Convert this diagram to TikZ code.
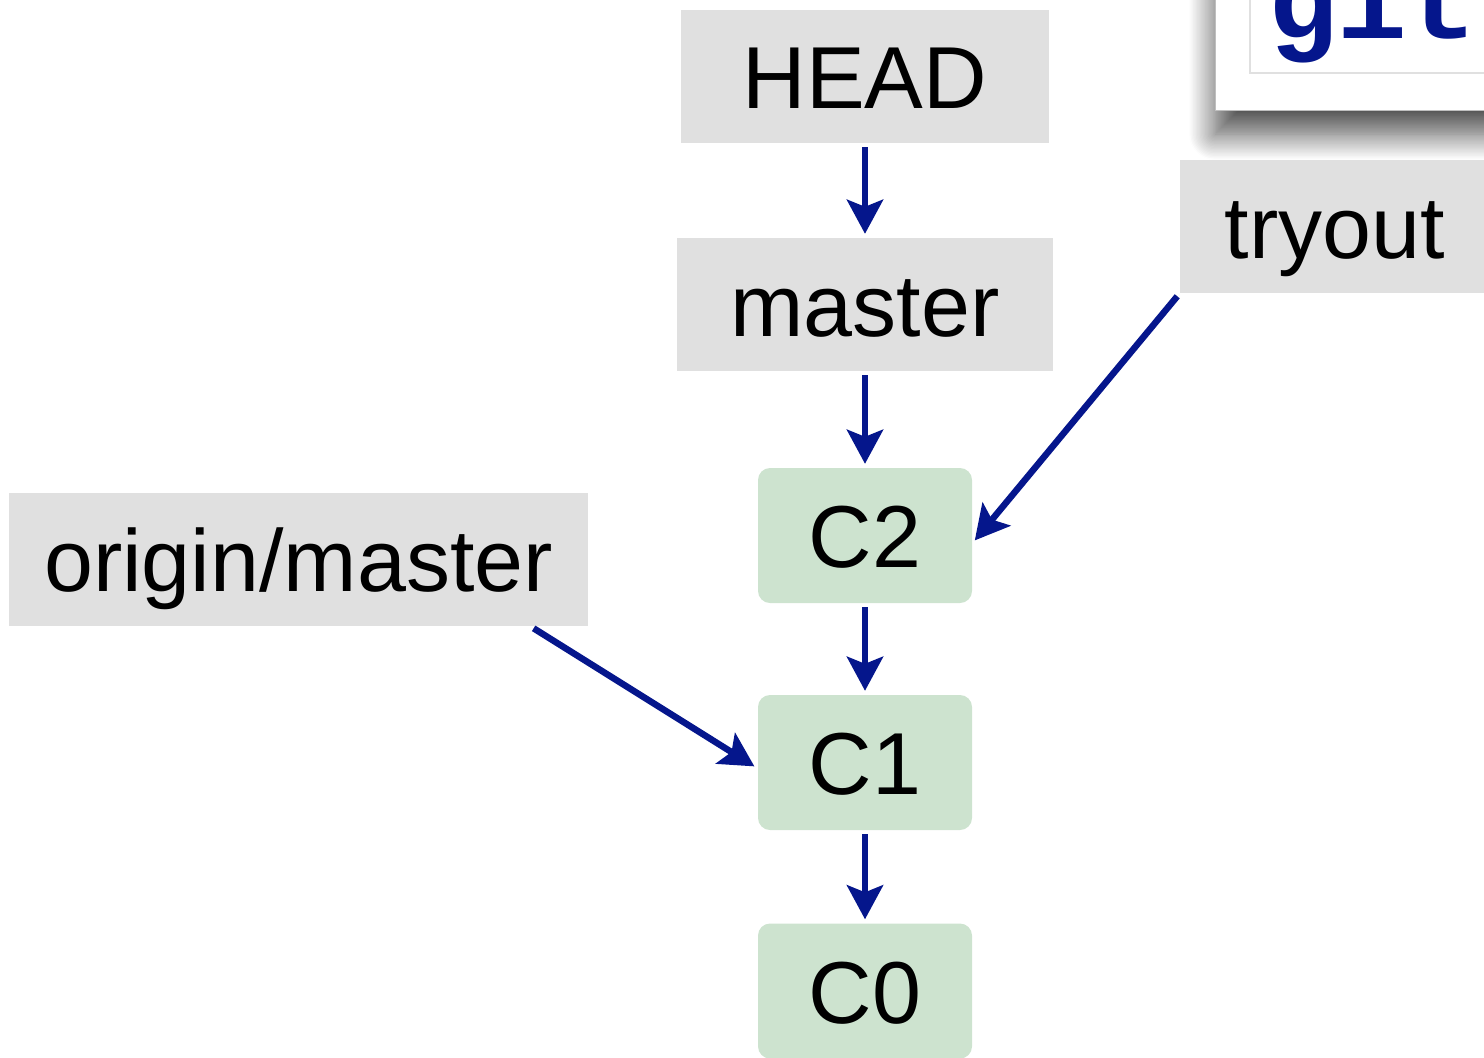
\documentclass[tikz,border=0pt]{standalone}
\usepackage{fontspec}
\setmainfont{Liberation Sans}
\newfontfamily\gitmono{Liberation Mono}
\usetikzlibrary{arrows.meta,shadows.blur}
\definecolor{boxgray}{RGB}{224,224,224}
\definecolor{commitgreen}{RGB}{205,227,207}
\definecolor{arrowblue}{RGB}{5,22,140}
\tikzset{
  lbl/.style={fill=boxgray, inner sep=0pt, minimum height=133pt,
    font=\fontsize{88}{96}\selectfont, text height=64pt, text depth=0pt},
  commit/.style={fill=commitgreen, rounded corners=12pt, inner sep=0pt,
    minimum width=214pt, minimum height=135pt,
    font=\fontsize{88}{96}\selectfont, text height=64pt, text depth=0pt},
  ptr/.style={draw=arrowblue, line width=6.5pt,
    -{Stealth[length=34pt, width=36pt, inset=7pt]}, shorten >=4pt, shorten <=4pt}
}
\begin{document}
\begin{tikzpicture}[x=1pt,y=-1pt]
\useasboundingbox (0,0) rectangle (1484,1058);
% git window
\fill[white, blur shadow={shadow xshift=0pt, shadow yshift=-24pt, shadow blur radius=26pt, shadow blur steps=20, shadow opacity=70}]
  (1215,-80) rectangle (1560,110);
\draw[gray!50, line width=1pt] (1215,-80) rectangle (1560,110);
\draw[boxgray, line width=1.5pt, fill=white] (1250,-80) rectangle (1560,73);
\node[anchor=base west, inner sep=0pt, text=arrowblue, font=\gitmono\bfseries\fontsize{116}{120}\selectfont] (git) at (1268,38) {git};
% label boxes
\node[lbl, minimum width=368pt] (head) at (865,76.5) {HEAD};
\node[lbl, minimum width=376pt] (master) at (865,304.5) {master};
\node[lbl, minimum width=310pt] (tryout) at (1335,226.5) {tryout};
\node[lbl, minimum width=579pt] (origin) at (298.5,559.5) {origin/master};
% commits
\node[commit] (c2) at (865,535.5) {C2};
\node[commit] (c1) at (865,762.5) {C1};
\node[commit] (c0) at (865,991) {C0};
% arrows
\draw[ptr] (head.south) -- (master.north);
\draw[ptr] (master.south) -- (c2.north);
\draw[ptr] (c2.south) -- (c1.north);
\draw[ptr] (c1.south) -- (c0.north);
\draw[ptr] (tryout.south west) -- ([yshift=-8pt]c2.east);
\draw[ptr] ($(origin.south west)!0.9!(origin.south east)$) -- ([yshift=-6pt]c1.west);
\end{tikzpicture}
\end{document}
